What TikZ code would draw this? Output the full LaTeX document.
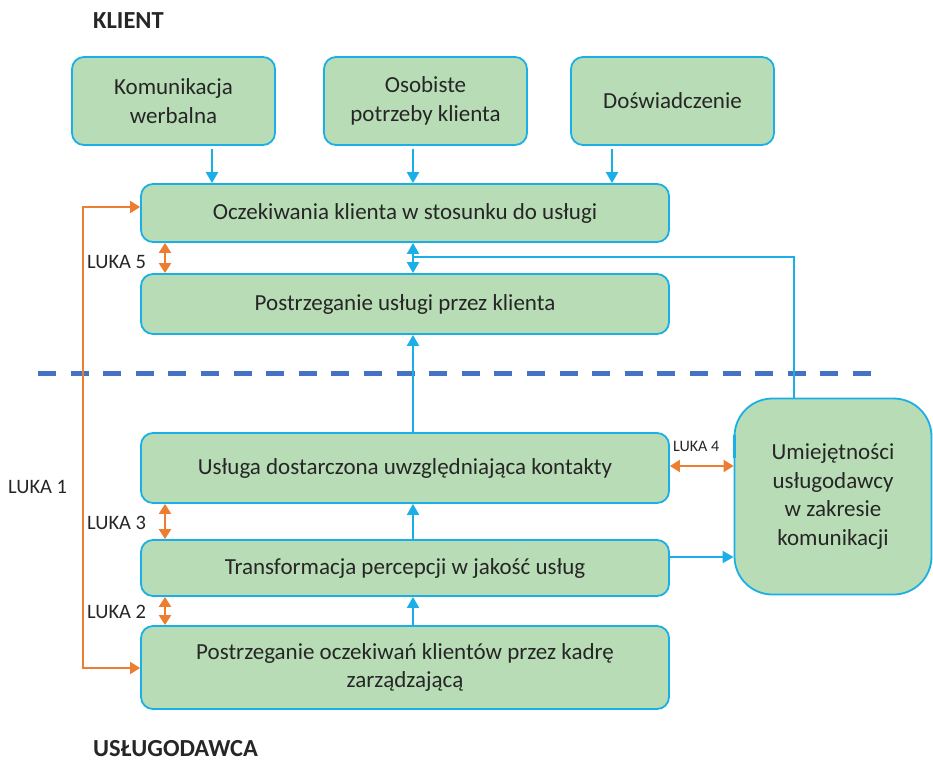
\documentclass[tikz,border=0pt]{standalone}
\usepackage{fontspec}
\setmainfont{Carlito}
\usetikzlibrary{arrows.meta}
\definecolor{boxgreen}{HTML}{B8DCB5}
\definecolor{lineblue}{HTML}{1AAFE6}
\definecolor{gaporange}{HTML}{ED7D31}
\definecolor{dashblue}{HTML}{4472C4}
\definecolor{txt}{HTML}{262626}
\begin{document}
\begin{tikzpicture}[x=1pt,y=-1pt,
  box/.style={draw=lineblue, line width=1.8pt, fill=boxgreen, rounded corners=12pt, align=center, text=txt, font=\fontsize{23}{28.5}\selectfont, inner sep=0pt},
  barrow/.style={draw=lineblue, line width=2pt, -{Triangle[length=11pt,width=12pt]}},
  bline/.style={draw=lineblue, line width=2pt},
  oarrow/.style={draw=gaporange, line width=2pt, {Triangle[length=10pt,width=12pt]}-{Triangle[length=10pt,width=12pt]}},
  luka/.style={text=txt, font=\fontsize{20.5}{24}\selectfont, inner sep=0pt, anchor=west},
  title/.style={text=txt, font=\fontsize{24.5}{28}\selectfont\bfseries, inner sep=0pt, anchor=west}
]
\useasboundingbox (0,0) rectangle (933,763);

% titles
\node[title] (klient) at (93,21) {KLIENT};
\node[title] (uslug) at (93,749) {USŁUGODAWCA};

% boxes
\node[box, minimum width=203pt, minimum height=88pt] (kom) at (173.5,101) {Komunikacja\\werbalna};
\node[box, minimum width=203pt, minimum height=88pt] (oso) at (425.5,101) {Osobiste\\potrzeby klienta};
\node[box, minimum width=203pt, minimum height=88pt] (dos) at (672.5,101) {Doświadczenie};
\node[box, minimum width=528pt, minimum height=58pt] (ocz) at (405,213) {Oczekiwania klienta w stosunku do usługi};
\node[box, minimum width=528pt, minimum height=60pt] (pu) at (405,304) {Postrzeganie usługi przez klienta};
\node[box, minimum width=528pt, minimum height=70pt] (ud) at (405,468) {Usługa dostarczona uwzględniająca kontakty};
\node[box, minimum width=528pt, minimum height=56pt] (tr) at (405,568) {Transformacja percepcji w jakość usług};
\node[box, minimum width=528pt, minimum height=83pt] (po) at (405,667.5) {Postrzeganie oczekiwań klientów przez kadrę\\zarządzającą};
\node[box, rounded corners=38pt, minimum width=197pt, minimum height=196pt] (umi) at (833,496.5) {Umiejętności\\usługodawcy\\w zakresie\\komunikacji};

% dashed divider
\coordinate (d1) at (38,373);
\coordinate (d2) at (872,373);
\draw[dashblue, line width=5pt, dash pattern=on 18pt off 14.6pt] (d1) -- (d2);

% blue arrows from top boxes
\coordinate (c1) at (212,0);
\coordinate (c2) at (413,0);
\coordinate (c3) at (612,0);
\draw[barrow, shorten <=3pt] (kom.south -| c1) -- (ocz.north -| c1);
\draw[barrow, shorten <=3pt] (oso.south -| c2) -- (ocz.north -| c2);
\draw[barrow, shorten <=3pt] (dos.south -| c3) -- (ocz.north -| c3);

% centre column
\coordinate (j) at (413,257);
\coordinate (cv) at (794,0);
\draw[bline] (umi.north -| cv) |- (j);
\draw[barrow] (j) -- (ocz.south -| c2);
\draw[barrow] (j) -- (pu.north -| c2);
\draw[barrow] (ud.north -| c2) -- (pu.south -| c2);
\draw[barrow] (tr.north -| c2) -- (ud.south -| c2);
\draw[barrow] (po.north -| c2) -- (tr.south -| c2);
\coordinate (ty) at (0,557);
\draw[barrow] (tr.east |- ty) -- (umi.west |- ty);

% blue mark on left edge of skills box
\coordinate (m1) at (0,435);
\coordinate (m2) at (0,458);
\draw[lineblue, line width=3.5pt] ([xshift=1pt]umi.west |- m1) -- ([xshift=1pt]umi.west |- m2);

% gaps
\coordinate (gx) at (165,0);
\draw[oarrow] (ocz.south -| gx) -- (pu.north -| gx);
\draw[oarrow] (ud.south -| gx) -- (tr.north -| gx);
\draw[oarrow] (tr.south -| gx) -- (po.north -| gx);
\coordinate (g4) at (0,466);
\draw[oarrow] (ud.east |- g4) -- (umi.west |- g4);
\coordinate (l1) at (83,207);
\coordinate (l2) at (83,668);
\draw[oarrow] (ocz.west |- l1) -- (l1) -- (l2) -- (po.west |- l2);

\node[luka] (t5) at (87,262) {LUKA 5};
\node[luka] (t3) at (87,523) {LUKA 3};
\node[luka] (t2) at (87,612) {LUKA 2};
\node[luka] (t1) at (8,487) {LUKA 1};
\node[luka, font=\fontsize{16}{18}\selectfont] (t4) at (673,446) {LUKA 4};
\end{tikzpicture}
\end{document}
